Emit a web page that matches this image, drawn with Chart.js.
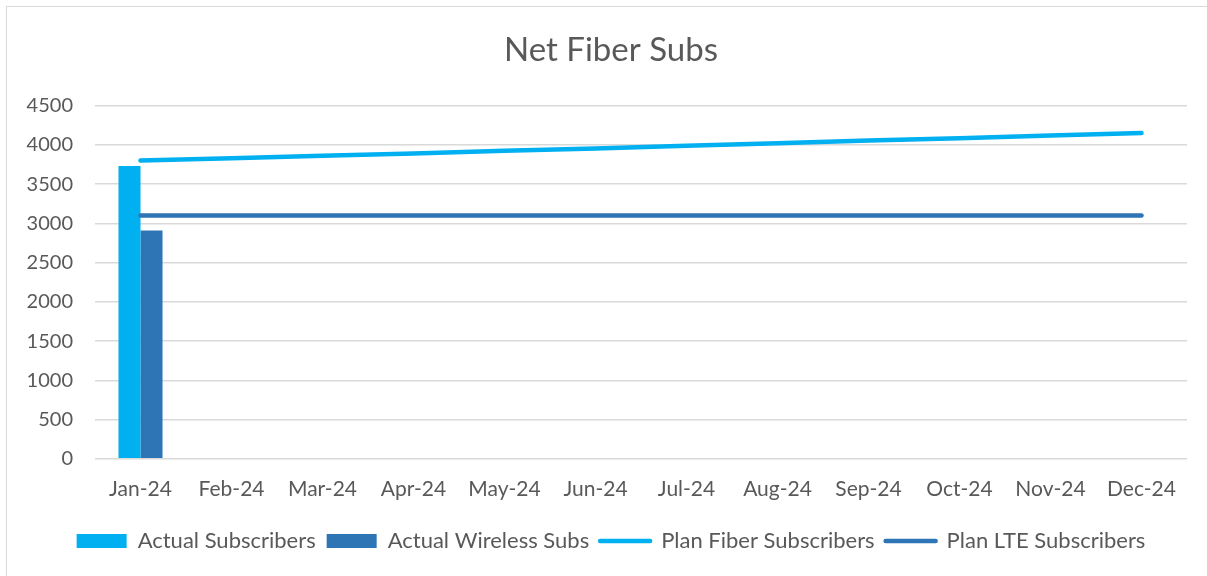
<!DOCTYPE html>
<html lang='en'>
<head>
    <meta charset='UTF-8'>
    <title>Net Fiber Subs</title>
    <script src="https://cdnjs.cloudflare.com/ajax/libs/Chart.js/4.4.0/chart.umd.min.js"></script>
    <style>
        body{ margin:0; background:#fff; overflow:hidden; }
        #chart_parent{
            position:absolute; left:0; top:0;
            width:1222px; height:576px;
        }
        #frame{
            position:absolute; left:6px; top:6px;
            width:1220px; height:590px;
            border-left:1px solid #d9d9d9;
            border-top:1px solid #d9d9d9;
            pointer-events:none;
        }
    </style>
</head>
<body>
<!-- 엑셀 차트 영역이 창보다 살짝 넓어서 캔버스를 1222로 잡음 -->
<div id="chart_parent">
    <canvas id="myChart" width="1222" height="576"></canvas>
</div>
<div id="frame"></div>
<script>
    // 월 라벨
    var v_labels = ['Jan-24', 'Feb-24', 'Mar-24', 'Apr-24', 'May-24', 'Jun-24',
                    'Jul-24', 'Aug-24', 'Sep-24', 'Oct-24', 'Nov-24', 'Dec-24'];
    // 실적 (1월만 있음)
    var v_actualSubs = [3730, null, null, null, null, null, null, null, null, null, null, null];
    var v_actualWireless = [2910, null, null, null, null, null, null, null, null, null, null, null];
    // 계획
    var v_planFiber = [3800, 3830, 3860, 3890, 3925, 3955, 3990, 4020, 4055, 4085, 4120, 4150];
    var v_planLTE = [3100, 3100, 3100, 3100, 3100, 3100, 3100, 3100, 3100, 3100, 3100, 3100];

    var c_light = '#00B0F0';
    var c_dark = '#2E75B6';
    var c_text = '#595959';
    var v_font = 'Lato, "Open Sans", sans-serif';

    const ctx = document.getElementById('myChart').getContext('2d');
    const myChart = new Chart(ctx, {
        type: 'bar',
        data: {
            labels: v_labels,
            datasets: [{
                label: 'Actual Subscribers',
                data: v_actualSubs,
                backgroundColor: c_light,
                borderWidth: 0,
                categoryPercentage: 0.484,
                barPercentage: 1,
                order: 2
            }, {
                label: 'Actual Wireless Subs',
                data: v_actualWireless,
                backgroundColor: c_dark,
                borderWidth: 0,
                categoryPercentage: 0.484,
                barPercentage: 1,
                order: 2
            }, {
                type: 'line',
                label: 'Plan Fiber Subscribers',
                data: v_planFiber,
                borderColor: c_light,
                backgroundColor: c_light,
                borderWidth: 4.5,
                borderCapStyle: 'round',
                pointRadius: 0,
                pointStyle: 'line',
                order: 1
            }, {
                type: 'line',
                label: 'Plan LTE Subscribers',
                data: v_planLTE,
                borderColor: c_dark,
                backgroundColor: c_dark,
                borderWidth: 4.5,
                borderCapStyle: 'round',
                pointRadius: 0,
                pointStyle: 'line',
                order: 1
            }]
        },
        options: {
            responsive: false,
            animation: false,
            layout: { padding: { left: 0, right: 0, top: 0, bottom: 14 } },
            plugins: {
                title: {
                    display: true,
                    text: 'Net Fiber Subs',
                    color: c_text,
                    font: { family: v_font, size: 33, weight: 'normal' },
                    padding: { top: 31, bottom: 35 }
                },
                legend: {
                    position: 'bottom',
                    labels: {
                        color: c_text,
                        font: { family: v_font, size: 22 },
                        usePointStyle: true,
                        pointStyleWidth: 50,
                        boxHeight: 14,
                        padding: 11,
                        sort: function(a, b){ return a.datasetIndex - b.datasetIndex; },
                        generateLabels: function(chart){
                            var items = Chart.defaults.plugins.legend.labels.generateLabels(chart);
                            items.forEach(function(it){
                                var ds = chart.data.datasets[it.datasetIndex];
                                if(ds.type === 'line'){
                                    it.pointStyle = 'line';
                                    it.lineCap = 'round';
                                    it.lineWidth = 4.5;
                                    it.strokeStyle = ds.borderColor;
                                } else {
                                    it.pointStyle = 'rect';
                                    it.lineWidth = 0;
                                }
                            });
                            return items;
                        }
                    }
                },
                tooltip: { enabled: false }
            },
            scales: {
                x: {
                    grid: { display: false },
                    border: { display: false },
                    ticks: { color: c_text, font: { family: v_font, size: 21 }, padding: 10, maxRotation: 0 },
                    afterFit: function(s){ s.height += 7; }
                },
                y: {
                    min: 0,
                    max: 4500,
                    ticks: {
                        stepSize: 500, color: c_text, font: { family: v_font, size: 20 }, padding: 22,
                        callback: function(v){ return String(v); }
                    },
                    grid: { color: '#d9d9d9', lineWidth: 1.5, drawTicks: false },
                    border: { display: false },
                    afterFit: function(s){ s.width = 95; }
                },
                // 오른쪽 여백용 빈 축
                y2: {
                    position: 'right',
                    grid: { display: false },
                    border: { display: false },
                    ticks: { display: false },
                    afterFit: function(s){ s.width = 35; }
                }
            }
        }
    });
</script>
</body>
</html>
